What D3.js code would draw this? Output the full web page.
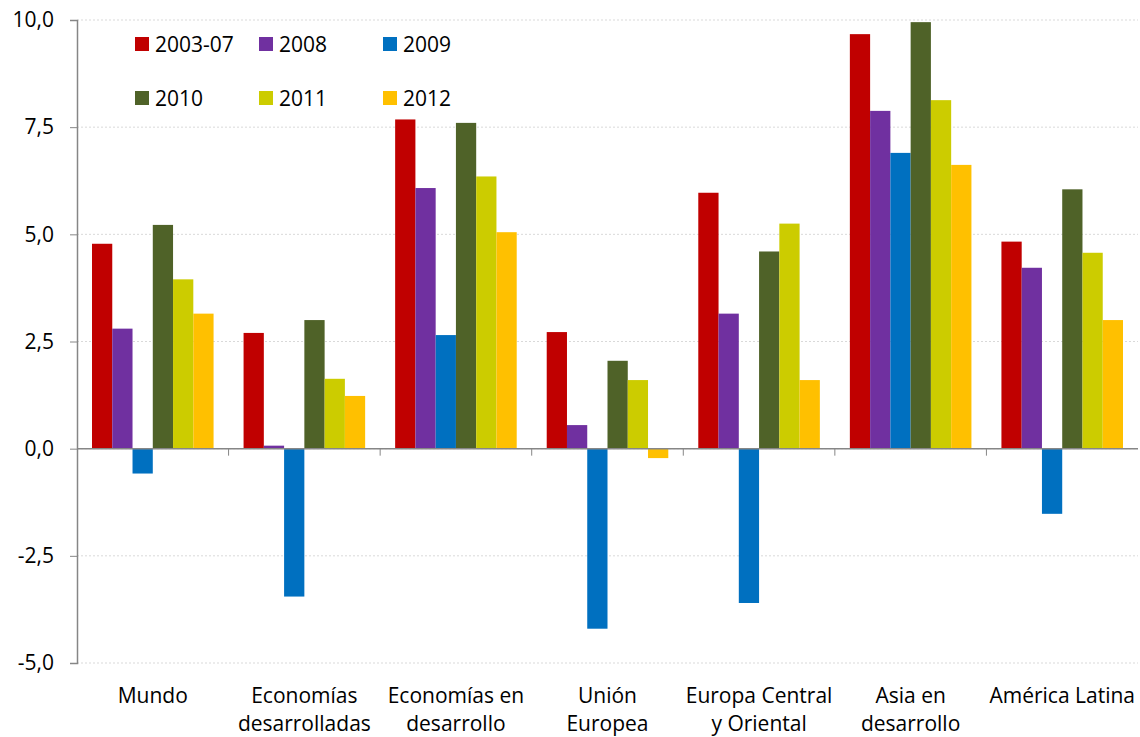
<!DOCTYPE html>
<html>
<head>
<meta charset="utf-8">
<script src="https://cdn.jsdelivr.net/npm/d3@7"></script>
<style>
  body { margin: 0; background: #fff; }
  svg { display: block; font-family: "Open Sans", sans-serif; }
</style>
</head>
<body>
<main></main>
<script>
// datos del gráfico
const regiones = ["Mundo", "Economías desarrolladas", "Economías en desarrollo", "Unión Europea",
  "Europa Central y Oriental", "Asia en desarrollo", "América Latina"];
const etiquetas = [["Mundo"], ["Economías", "desarrolladas"], ["Economías en", "desarrollo"],
  ["Unión", "Europea"], ["Europa Central", "y Oriental"], ["Asia en", "desarrollo"], ["América Latina"]];
const periodos = ["2003-07", "2008", "2009", "2010", "2011", "2012"];

const v2003_07 = [4.78, 2.70, 7.68, 2.72, 5.97, 9.67, 4.83];
const v2008 = [2.80, 0.07, 6.08, 0.55, 3.15, 7.88, 4.22];
const v2009 = [-0.58, -3.45, 2.65, -4.20, -3.60, 6.90, -1.52];
const v2010 = [5.22, 3.00, 7.60, 2.05, 4.60, 9.95, 6.05];
const v2011 = [3.95, 1.63, 6.35, 1.60, 5.25, 8.13, 4.57];
const v2012 = [3.15, 1.23, 5.05, -0.22, 1.60, 6.62, 3.00];
const series = [v2003_07, v2008, v2009, v2010, v2011, v2012];

const colores = ["#c00000", "#7030a0", "#0070c0", "#4f6228", "#cccc00", "#ffc000"];
const ticksY = [-5, -2.5, 0, 2.5, 5, 7.5, 10];

const w = 1140, h = 737;
const m = { left: 77, right: 2, top: 20, bottom: 74 };
const fs = 21;

var svg = d3.select('main')
    .append('svg')
    .attr('width', w)
    .attr('height', h);

const x0 = d3.scaleBand()
    .domain(regiones)
    .range([m.left, w - m.right]);

const x1 = d3.scaleBand()
    .domain(periodos)
    .range([15, x0.bandwidth() - 15]);

const y = d3.scaleLinear()
    .domain([-5, 10])
    .range([h - m.bottom, m.top]);

// rejilla punteada
svg.append('g')
    .selectAll('line')
    .data(ticksY)
    .enter()
    .append('line')
    .attr('x1', m.left).attr('x2', w - m.right)
    .attr('y1', d => y(d)).attr('y2', d => y(d))
    .attr('stroke', '#d9d9d9')
    .attr('stroke-dasharray', '2,2');

// barras
const grupos = svg.append('g')
    .selectAll('g')
    .data(regiones)
    .enter()
    .append('g')
    .attr('transform', d => `translate(${x0(d)},0)`);

grupos.selectAll('rect')
    .data((d, i) => periodos.map((p, j) => ({ p: p, v: series[j][i], c: colores[j] })))
    .enter()
    .append('rect')
    .attr('x', d => x1(d.p))
    .attr('width', x1.bandwidth())
    .attr('y', d => y(Math.max(0, d.v)))
    .attr('height', d => Math.abs(y(d.v) - y(0)))
    .attr('fill', d => d.c);

// eje y (coma decimal y guion normal)
const ejeY = svg.append('g')
    .attr('transform', `translate(${m.left},0)`)
    .call(d3.axisLeft(y).tickValues(ticksY).tickSize(7).tickPadding(16)
      .tickFormat(d => d.toFixed(1).replace('.', ',')));
ejeY.select('.domain').attr('stroke', '#868686').attr('stroke-width', 1.5);
ejeY.selectAll('.tick line').attr('stroke', '#868686');
ejeY.selectAll('.tick text').attr('font-size', fs).attr('fill', '#000')
    .style('font-family', '"Open Sans", sans-serif');

// eje x en el cero
svg.append('line')
    .attr('x1', m.left).attr('x2', w - m.right)
    .attr('y1', y(0)).attr('y2', y(0))
    .attr('stroke', '#868686').attr('stroke-width', 1.5);

svg.append('g')
    .selectAll('line')
    .data(regiones.slice(1))
    .enter()
    .append('line')
    .attr('x1', d => x0(d)).attr('x2', d => x0(d))
    .attr('y1', y(0)).attr('y2', y(0) + 7)
    .attr('stroke', '#868686');

// etiquetas de categorías
svg.append('g')
    .selectAll('text')
    .data(regiones)
    .enter()
    .append('text')
    .attr('x', d => x0(d) + x0.bandwidth() / 2)
    .attr('y', 703)
    .attr('text-anchor', 'middle')
    .attr('font-size', fs)
    .attr('fill', '#000')
    .selectAll('tspan')
    .data((d, i) => etiquetas[i])
    .enter()
    .append('tspan')
    .attr('x', function () { return this.parentNode.getAttribute('x'); })
    .attr('dy', (d, i) => i === 0 ? 0 : 28)
    .text(d => d);

// leyenda
const leyenda = svg.append('g')
    .selectAll('g')
    .data(periodos)
    .enter()
    .append('g')
    .attr('transform', (d, i) => `translate(${135 + (i % 3) * 124},${i < 3 ? 37 : 91})`);

leyenda.append('rect')
    .attr('width', 14).attr('height', 14)
    .attr('fill', (d, i) => colores[i]);

leyenda.append('text')
    .attr('x', 20).attr('y', 15)
    .attr('font-size', fs)
    .attr('fill', '#000')
    .text(d => d);
</script>
</body>
</html>
